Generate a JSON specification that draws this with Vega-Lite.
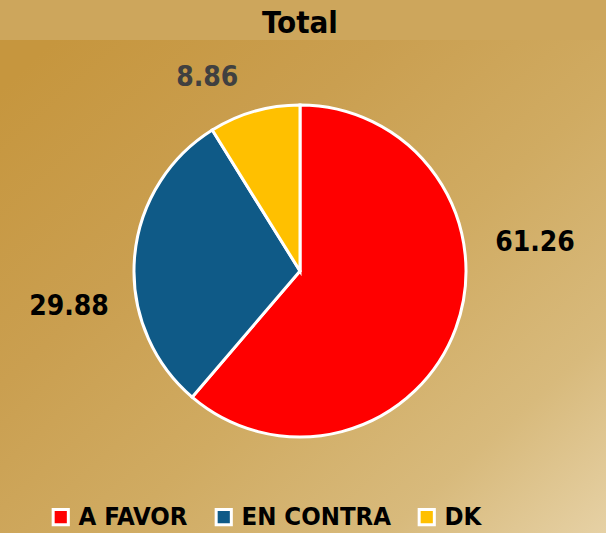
{
  "$schema": "https://vega.github.io/schema/vega-lite/v6.json",
  "width": 600,
  "height": 462,
  "autosize": {"type": "none"},
  "padding": {"left": 0, "top": 40, "right": 6, "bottom": 31},
  "background": "#CDA65C",
  "config": {"view": {"stroke": null}},
  "title": {
    "text": "Total",
    "font": "DejaVu Sans Condensed",
    "fontSize": 31,
    "fontWeight": "bold",
    "color": "#000000",
    "anchor": "middle",
    "frame": "group",
    "offset": 0
  },
  "data": {
    "values": [
      {"cat": "A FAVOR", "value": 61.26, "ord": 1},
      {"cat": "EN CONTRA", "value": 29.88, "ord": 2},
      {"cat": "DK", "value": 8.86, "ord": 3}
    ]
  },
  "layer": [
    {
      "data": {"values": [{"bg": 1}]},
      "mark": {
        "type": "rect",
        "fill": {
          "gradient": "linear",
          "x1": 0, "y1": 0.1, "x2": 1, "y2": 1,
          "stops": [
            {"offset": 0, "color": "#C6963E"},
            {"offset": 0.3, "color": "#CA9F50"},
            {"offset": 0.55, "color": "#D0AB62"},
            {"offset": 0.8, "color": "#D8BA7C"},
            {"offset": 1, "color": "#E6D1A5"}
          ]
        }
      },
      "encoding": {
        "x": {"value": 0},
        "x2": {"value": 606},
        "y": {"value": 0},
        "y2": {"value": 493}
      }
    },
    {
      "mark": {"type": "arc", "outerRadius": 166, "stroke": "#FFFFFF", "strokeWidth": 3},
      "encoding": {
        "theta": {"field": "value", "type": "quantitative", "stack": true},
        "order": {"field": "ord", "type": "quantitative"},
        "color": {
          "field": "cat",
          "type": "nominal",
          "sort": ["A FAVOR", "EN CONTRA", "DK"],
          "scale": {"domain": ["A FAVOR", "EN CONTRA", "DK"], "range": ["#FF0000", "#0F5A87", "#FFC000"]},
          "legend": {
            "orient": "none",
            "legendX": 48,
            "legendY": 464,
            "direction": "horizontal",
            "title": null,
            "symbolType": "square",
            "symbolSize": 230,
            "symbolStrokeColor": "#FFFFFF",
            "symbolStrokeWidth": 3,
            "symbolOpacity": 1,
            "labelExpr": "datum.label === 'A FAVOR' ? '\u00a0A FAVOR' : datum.label",
            "labelFont": "DejaVu Sans Condensed",
            "labelFontSize": 25.5,
            "labelFontWeight": "bold",
            "labelColor": "#000000",
            "labelOffset": 5,
            "columnPadding": 22,
            "labelLimit": 300
          }
        }
      }
    },
    {
      "transform": [
        {"stack": "value", "groupby": [], "sort": [{"field": "ord", "order": "ascending"}], "as": ["v0", "v1"]},
        {"filter": "datum.cat === 'A FAVOR'"}
      ],
      "mark": {"type": "text", "radius": 200, "dx": 235, "dy": 172, "font": "DejaVu Sans Condensed", "fontSize": 28, "fontWeight": "bold", "color": "#000000", "align": "center", "baseline": "middle"},
      "encoding": {
        "theta": {"field": "v0", "type": "quantitative"},
        "text": {"field": "value", "type": "quantitative", "format": ".2f"}
      }
    },
    {
      "transform": [
        {"stack": "value", "groupby": [], "sort": [{"field": "ord", "order": "ascending"}], "as": ["v0", "v1"]},
        {"filter": "datum.cat === 'EN CONTRA'"}
      ],
      "mark": {"type": "text", "radius": 200, "dx": -101, "dy": -116, "font": "DejaVu Sans Condensed", "fontSize": 28, "fontWeight": "bold", "color": "#000000", "align": "center", "baseline": "middle"},
      "encoding": {
        "theta": {"field": "v0", "type": "quantitative"},
        "text": {"field": "value", "type": "quantitative", "format": ".2f"}
      }
    },
    {
      "transform": [
        {"stack": "value", "groupby": [], "sort": [{"field": "ord", "order": "ascending"}], "as": ["v0", "v1"]},
        {"filter": "datum.cat === 'DK'"}
      ],
      "mark": {"type": "text", "radius": 200, "dx": 13, "dy": -23, "font": "DejaVu Sans Condensed", "fontSize": 28, "fontWeight": "bold", "color": "#404040", "align": "center", "baseline": "middle"},
      "encoding": {
        "theta": {"field": "v0", "type": "quantitative"},
        "text": {"field": "value", "type": "quantitative", "format": ".2f"}
      }
    }
  ]
}
